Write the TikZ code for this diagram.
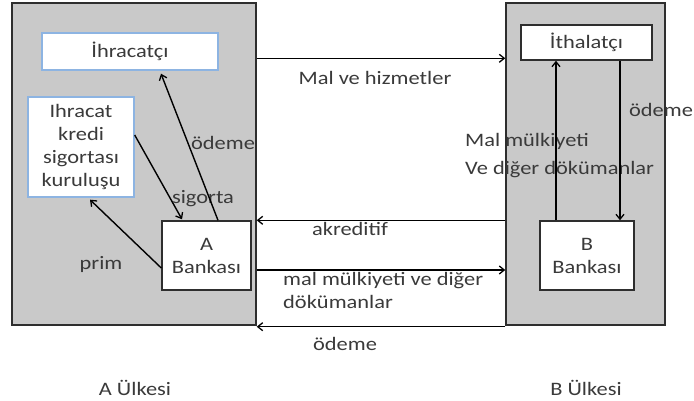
\documentclass[tikz,border=0pt]{standalone}
\usepackage{fontspec}
\setmainfont{Carlito}[FakeStretch=1.18]
\usetikzlibrary{arrows.meta,shadows}
\definecolor{countryfill}{HTML}{C9C9C9}
\definecolor{edgegray}{HTML}{2E2E2E}
\definecolor{textgray}{HTML}{3A3A3A}
\definecolor{paleblue}{HTML}{8DB4E2}
\tikzset{
  country/.style={rectangle, fill=countryfill, draw=edgegray, line width=1.4pt,
    inner sep=0pt, drop shadow={shadow xshift=1.2pt, shadow yshift=-1.2pt, opacity=0.35}},
  partybox/.style={rectangle, fill=white, line width=1.4pt, inner sep=0pt,
    align=center, text=textgray, font=\fontsize{19}{23}\selectfont},
  bluebox/.style={partybox, draw=paleblue},
  darkbox/.style={partybox, draw=edgegray},
  lbl/.style={inner sep=0pt, text=textgray, font=\fontsize{19}{23}\selectfont},
  flow/.style={-{Straight Barb[length=5pt,width=8pt,line width=1.3pt]}, line width=1.4pt, black}
}
\begin{document}
\begin{tikzpicture}[x=1pt,y=-1pt]
\useasboundingbox (0,0) rectangle (694,401);

% two countries
\node[country, minimum width=244pt, minimum height=322pt] (countryA) at (134,164) {};
\node[country, minimum width=159pt, minimum height=322pt] (countryB) at (585.5,164) {};

% labels
\node[lbl] (lmal) at (375,78) {Mal ve hizmetler};
\node[lbl] (lodemeA) at (223,143) {ödeme};
\node[lbl] (lsig) at (203,199) {sigorta};
\node[lbl] (lprim) at (101,264) {prim};
\node[lbl] (lodemeB) at (661,110) {ödeme};
\node[lbl, anchor=north west, align=left] (ldocB) at (465,133) {Mal mülkiyeti\\[5pt]Ve diğer dökümanlar};
\node[lbl] (lakr) at (350,229) {akreditif};
\node[lbl, anchor=north west, align=left] (ldocAB) at (283,272) {mal mülkiyeti ve diğer\\dökümanlar};
\node[lbl] (lodemeC) at (345,344) {ödeme};
\node[lbl] (lA) at (135,388) {A Ülkesi};
\node[lbl] (lB) at (586,388) {B Ülkesi};

% country outlines on top of the labels
\draw[edgegray, line width=1.4pt] (countryA.south west) rectangle (countryA.north east);
\draw[edgegray, line width=1.4pt] (countryB.south west) rectangle (countryB.north east);

% parties
\node[bluebox, minimum width=176pt, minimum height=37pt] (exporter) at (130,51.5) {İhracatçı};
\node[bluebox, minimum width=106pt, minimum height=100pt] (insurer) at (81,147) {Ihracat\\kredi\\sigortası\\kuruluşu};
\node[darkbox, minimum width=89pt, minimum height=69pt] (bankA) at (206.5,255.5) {A\\Bankası};
\node[darkbox, minimum width=131pt, minimum height=35pt] (importer) at (586.5,42.5) {İthalatçı};
\node[darkbox, minimum width=94pt, minimum height=69pt] (bankB) at (587,255.5) {B\\Bankası};

% flows between the countries
\draw[flow] ([yshift=-56pt]countryA.north east) -- ([yshift=-56pt]countryB.north west);
\draw[flow] (countryB.west |- bankA.north) -- (countryA.east |- bankA.north);
\draw[flow] ([yshift=-14.5pt]countryA.east |- bankA.center) -- ([yshift=-14.5pt]countryB.west |- bankA.center);
\draw[flow] ([yshift=-1pt]countryB.south west) -- ([yshift=-1pt]countryA.south east);

% flows inside country A
\draw[flow] ([xshift=11.5pt]bankA.north) -- ([xshift=31pt,yshift=-3pt]exporter.south);
\draw[flow] ([yshift=12pt]insurer.east) -- ([xshift=-24.5pt,yshift=1pt]bankA.north);
\draw[flow] ([yshift=-12.5pt]bankA.west) -- ([xshift=9pt,yshift=-2pt]insurer.south);

% flows inside country B
\draw[flow] ([xshift=-31pt]bankB.north) -- ([xshift=-30.5pt]importer.south);
\draw[flow] ([xshift=33.5pt]importer.south) -- ([xshift=33pt]bankB.north);
\end{tikzpicture}
\end{document}
